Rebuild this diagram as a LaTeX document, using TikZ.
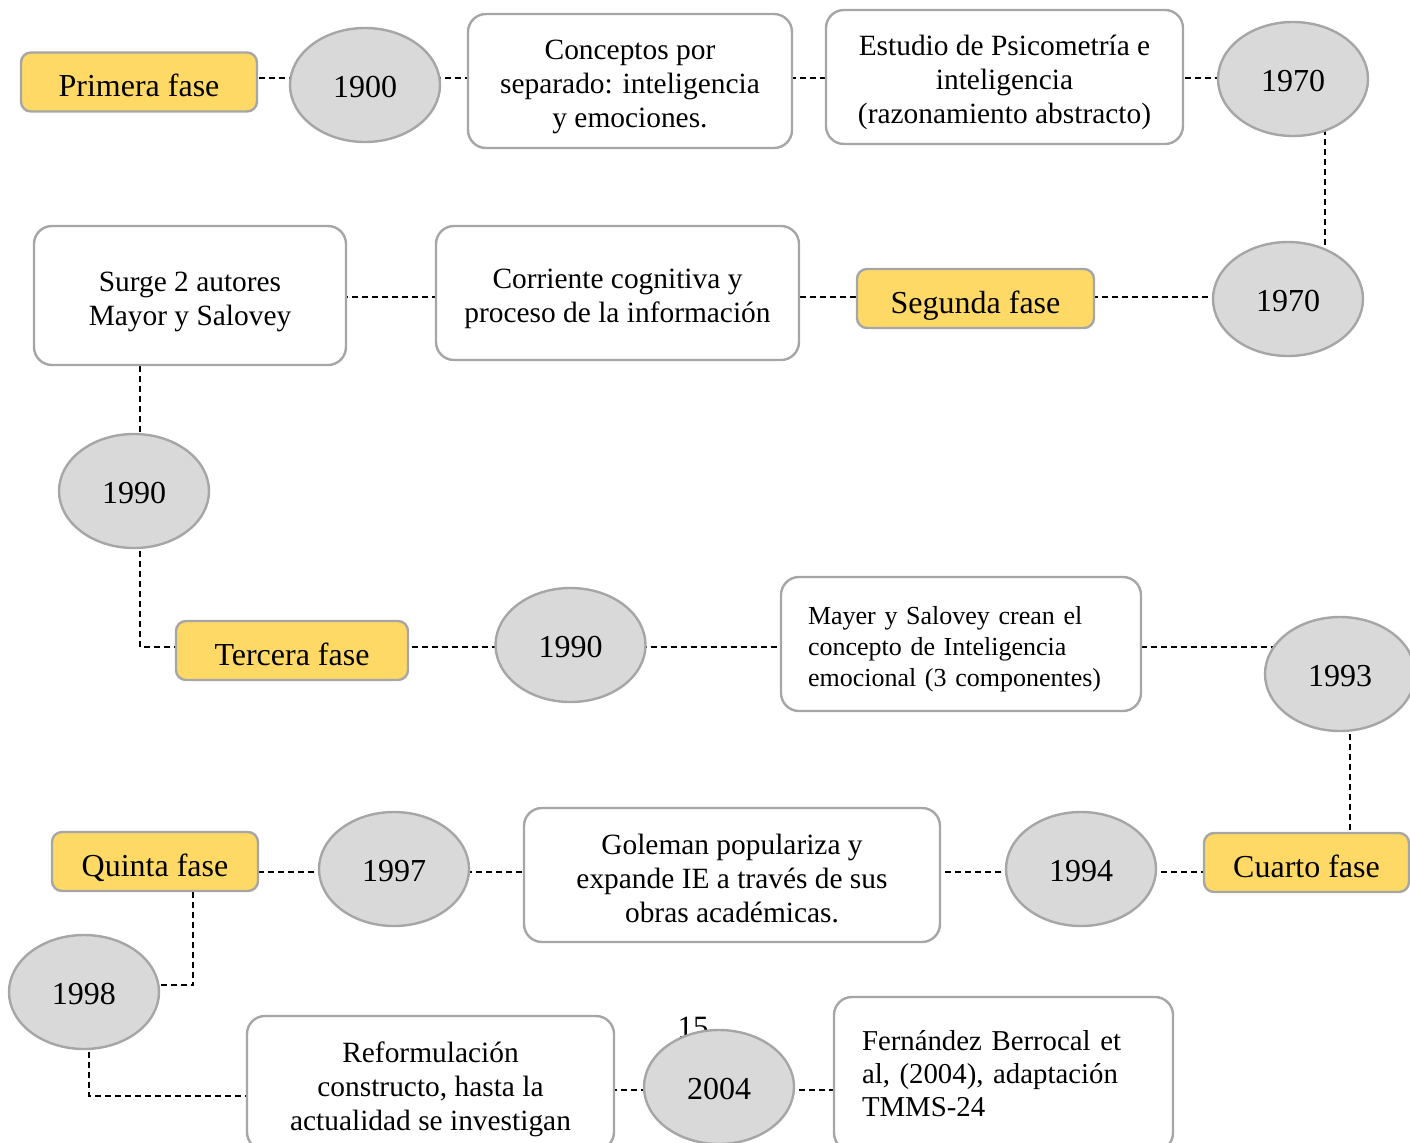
\documentclass[tikz,border=0pt]{standalone}
\usepackage{fontspec}
\setmainfont{Liberation Serif}
\usetikzlibrary{shapes.geometric,backgrounds}
\definecolor{phasefill}{HTML}{FFD966}
\definecolor{yearfill}{HTML}{D9D9D9}
\definecolor{edgegray}{HTML}{A6A6A6}
% tall invisible strut on a first line: pushes the text block down inside its box
\newcommand{\firstline}[1]{\rule{0pt}{#1}}
\tikzset{
  phase/.style={draw=edgegray, line width=1.2pt, fill=phasefill, rounded corners=5pt,
    minimum height=29.5pt, inner sep=0pt, text height=14.5pt, text depth=0pt,
    font=\fontsize{16}{19}\selectfont},
  year/.style={ellipse, draw=edgegray, line width=1.2pt, fill=yearfill,
    minimum width=75pt, minimum height=57pt, inner sep=0pt, text height=12.3pt, text depth=0pt,
    font=\fontsize{16}{19}\selectfont},
  note/.style={draw=edgegray, line width=1.2pt, fill=white, rounded corners=9pt,
    minimum height=67pt, inner sep=0pt, align=center, font=\fontsize{14.7}{17}\selectfont},
  conn/.style={draw=black, line width=0.6pt, dash pattern=on 3pt off 2pt}
}
\begin{document}
\begin{tikzpicture}[x=0.5pt,y=-0.5pt]
\useasboundingbox (0,0) rectangle (1410,1142);
\clip (0,0) rectangle (1410,1142);

% first row
\node[phase, minimum width=118pt] (prim) at (139,82) {Primera fase};
\node[year] (y1900) at (365,85) {1900};
\node[note, minimum width=162pt] (conc) at (630,81) {\firstline{15.8pt}Conceptos por\\separado: inteligencia\\y emociones.};
\node[note, minimum width=178.5pt] (estu) at (1004.5,77) {\firstline{15.2pt}Estudio de Psicometría e\\inteligencia\\(razonamiento abstracto)};
\node[year] (y1970a) at (1293,79) {1970};

% second row
\node[note, minimum width=156pt, minimum height=69.5pt] (surge) at (190,295.5) {\firstline{16pt}Surge 2 autores\\Mayor y Salovey};
\node[note, minimum width=181.5pt] (corr) at (617.5,293) {\firstline{16pt}Corriente cognitiva y\\proceso de la información};
\node[phase, minimum width=118.5pt] (seg) at (975.5,298.5) {Segunda fase};
\node[year] (y1970b) at (1288,299) {1970};

% third row
\node[year] (y1990a) at (134,491) {1990};
\node[phase, minimum width=116pt] (terc) at (292,650.5) {Tercera fase};
\node[year] (y1990b) at (570.5,645) {1990};
\node[note, minimum width=180pt, text width=153pt, inner xsep=13.5pt, align=left,
  font=\fontsize{13}{15.5}\selectfont] (mayer) at (961,644)
  {\firstline{14pt}Mayer y Salovey crean el\\concepto de Inteligencia\\emocional (3 componentes)};
\node[year] (y1993) at (1340,674) {1993};

% fourth row
\node[phase, minimum width=102.5pt] (cuarto) at (1306.5,862.5) {Cuarto fase};
\node[year] (y1994) at (1081,869) {1994};
\node[note, minimum width=208pt] (gole) at (732,875) {\firstline{14pt}Goleman populariza y\\expande IE a través de sus\\obras académicas.};
\node[year] (y1997) at (394,869) {1997};
\node[phase, minimum width=103pt] (quinta) at (155,861.5) {Quinta fase};

% fifth row
\node[year] (y1998) at (84,992) {1998};
\node[note, minimum width=183.5pt] (reform) at (430.5,1083) {\firstline{16.2pt}Reformulación\\constructo, hasta la\\actualidad se investigan};
\node[font=\fontsize{15.5}{18}\selectfont, inner sep=0pt] (pnum) at (693,1027) {15};
\node[year] (y2004) at (719,1087) {2004};
\node[note, minimum width=169.5pt, minimum height=77pt, text width=141.5pt, inner xsep=14pt,
  align=left, font=\fontsize{14.4}{16.5}\selectfont] (fern) at (1003.5,1074)
  {Fernández Berrocal et\\al, (2004), adaptación\\TMMS-24};

% connector guide positions
\coordinate (r1) at (0,78);
\coordinate (r2) at (0,297);
\coordinate (r3) at (0,647);
\coordinate (r4) at (0,872);
\coordinate (r5) at (0,1090);
\coordinate (v1) at (1325,0);
\coordinate (v2) at (140,0);
\coordinate (v3) at (1350,0);
\coordinate (k1) at (193,985);
\coordinate (k2) at (89,1096);

\begin{scope}[on background layer]
  % horizontal links along each row, vertical links between rows
  \draw[conn] (prim.center |- r1) -- (y1900.center |- r1);
  \draw[conn] (y1900.center |- r1) -- (conc.center |- r1);
  \draw[conn] (conc.center |- r1) -- (estu.center |- r1);
  \draw[conn] (estu.center |- r1) -- (y1970a.center |- r1);
  \draw[conn] (y1970a.center -| v1) -- (y1970b.center -| v1);
  \draw[conn] (y1970b.center |- r2) -- (seg.center |- r2);
  \draw[conn] (seg.center |- r2) -- (corr.center |- r2);
  \draw[conn] (corr.center |- r2) -- (surge.center |- r2);
  \draw[conn] (surge.center -| v2) -- (y1990a.center -| v2);
  \draw[conn] (y1990a.center -| v2) -- (v2 |- r3) -- (terc.center |- r3);
  \draw[conn] (terc.center |- r3) -- (y1990b.center |- r3);
  \draw[conn] (y1990b.center |- r3) -- (mayer.center |- r3);
  \draw[conn] (mayer.center |- r3) -- (y1993.center |- r3);
  \draw[conn] (y1993.center -| v3) -- (cuarto.center -| v3);
  \draw[conn] (cuarto.center |- r4) -- (y1994.center |- r4);
  \draw[conn] (y1994.center |- r4) -- (gole.center |- r4);
  \draw[conn] (gole.center |- r4) -- (y1997.center |- r4);
  \draw[conn] (y1997.center |- r4) -- (quinta.center |- r4);
  \draw[conn] (quinta.center -| k1) -- (k1) -- (y1998.center |- k1);
  \draw[conn] (y1998.center -| k2) -- (k2) -- (reform.center |- k2);
  \draw[conn] (reform.center |- r5) -- (y2004.center |- r5);
  \draw[conn] (y2004.center |- r5) -- (fern.center |- r5);
\end{scope}
\end{tikzpicture}
\end{document}
